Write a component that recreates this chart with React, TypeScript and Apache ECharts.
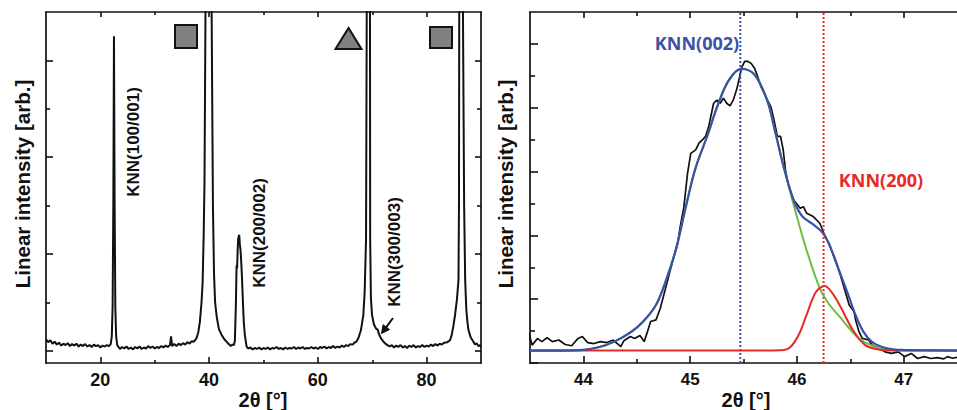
import React, { useEffect, useRef } from 'react';
import * as echarts from 'echarts';

// ---------- Left panel: 2θ-ω XRD scan (values in arbitrary units, one unit per y tick) ----------
const xrdScan: [number, number][] = [
  [10.0, 0.24], [10.4, 0.18], [10.8, 0.22], [11.2, 0.15], [11.6, 0.19], [12.0, 0.13], [12.4, 0.17], [12.8, 0.11],
  [13.2, 0.15], [13.6, 0.12], [14.0, 0.16], [14.4, 0.10], [14.8, 0.14], [15.2, 0.11], [15.6, 0.15], [16.0, 0.09],
  [16.4, 0.13], [16.8, 0.10], [17.2, 0.14], [17.6, 0.09], [18.0, 0.12], [18.4, 0.08], [18.8, 0.13], [19.2, 0.10],
  [19.6, 0.12], [20.0, 0.07], [20.4, 0.11], [20.8, 0.09], [21.2, 0.12], [21.6, 0.10],
  [21.9, 0.14], [22.1, 0.3], [22.25, 0.9], [22.38, 3.0], [22.5, 6.5], [22.62, 3.0], [22.75, 0.9], [22.9, 0.3], [23.1, 0.12],
  [23.6, 0.04], [24.0, 0.08], [24.4, 0.05], [24.8, 0.09], [25.2, 0.04], [25.6, 0.07], [26.0, 0.03], [26.4, 0.08],
  [26.8, 0.05], [27.2, 0.09], [27.6, 0.04], [28.0, 0.07], [28.4, 0.05], [28.8, 0.10], [29.2, 0.06], [29.6, 0.09],
  [30.0, 0.05], [30.4, 0.08], [30.8, 0.06], [31.2, 0.10], [31.6, 0.07], [32.0, 0.11], [32.4, 0.08], [32.8, 0.12],
  [33.0, 0.30], [33.2, 0.10], [33.6, 0.14], [34.0, 0.10], [34.4, 0.15], [34.8, 0.12], [35.2, 0.16], [35.6, 0.13],
  [36.0, 0.18], [36.4, 0.15], [36.8, 0.20], [37.2, 0.19],
  [37.67, 0.26], [38.0, 0.38], [38.3, 0.6], [38.6, 1.0], [38.8, 1.4], [39.0, 2.4], [39.15, 3.5], [39.34, 7.2],
  [39.9, 12], [40.45, 7.2], [40.7, 3.0], [40.9, 1.6], [41.1, 1.0], [41.4, 0.7], [41.8, 0.45], [42.3, 0.33],
  [42.8, 0.24], [43.2, 0.19], [43.6, 0.14], [44.0, 0.10], [44.3, 0.13], [44.55, 0.12],
  [44.73, 0.2], [44.92, 0.95], [45.05, 1.77], [45.15, 1.7], [45.25, 2.1], [45.35, 2.32], [45.53, 2.40], [45.65, 2.2],
  [45.78, 2.07], [45.9, 1.85], [46.02, 1.57], [46.15, 1.2], [46.26, 0.88], [46.4, 0.55], [46.57, 0.33], [46.89, 0.09],
  [47.2, 0.05], [47.6, 0.07], [48.0, 0.03], [48.4, 0.06], [48.8, 0.04], [49.2, 0.07], [49.6, 0.03], [50.0, 0.06],
  [50.4, 0.04], [50.8, 0.07], [51.2, 0.03], [51.6, 0.06], [52.0, 0.05], [52.4, 0.08], [52.8, 0.04], [53.2, 0.06],
  [53.6, 0.03], [54.0, 0.07], [54.4, 0.04], [54.8, 0.06], [55.2, 0.05], [55.6, 0.08], [56.0, 0.04], [56.4, 0.07],
  [56.8, 0.05], [57.2, 0.08], [57.6, 0.04], [58.0, 0.06], [58.4, 0.05], [58.8, 0.08], [59.2, 0.05], [59.6, 0.07],
  [60.0, 0.04], [60.4, 0.08], [60.8, 0.06], [61.2, 0.09], [61.6, 0.05], [62.0, 0.08], [62.4, 0.06], [62.8, 0.10],
  [63.2, 0.06], [63.6, 0.09], [64.0, 0.07], [64.4, 0.11], [64.8, 0.08], [65.2, 0.12], [65.6, 0.10], [66.0, 0.14],
  [66.4, 0.13], [66.8, 0.18],
  [67.0, 0.18], [67.44, 0.26], [67.9, 0.42], [68.36, 0.74], [68.6, 1.2], [68.86, 2.32], [68.99, 7.2], [69.3, 12],
  [69.58, 7.2], [69.62, 2.3], [69.75, 1.1], [69.95, 0.75], [70.3, 0.55], [70.7, 0.46], [71.0, 0.44], [71.2, 0.36],
  [71.6, 0.26], [72.0, 0.20], [72.4, 0.15],
  [72.8, 0.12], [73.2, 0.09], [73.6, 0.12], [74.0, 0.07], [74.4, 0.11], [74.8, 0.08], [75.2, 0.12], [75.6, 0.07],
  [76.0, 0.10], [76.4, 0.06], [76.8, 0.11], [77.2, 0.08], [77.6, 0.12], [78.0, 0.07], [78.4, 0.10], [78.8, 0.08],
  [79.2, 0.12], [79.6, 0.08], [80.0, 0.11], [80.4, 0.09], [80.8, 0.13], [81.2, 0.10], [81.6, 0.14], [82.0, 0.11],
  [82.4, 0.15], [82.8, 0.13], [83.2, 0.17],
  [83.8, 0.18], [84.3, 0.22], [84.6, 0.32], [84.9, 0.5], [85.2, 0.72], [85.56, 1.05], [85.86, 1.46], [85.95, 3.0],
  [86.0, 7.2], [86.3, 12], [86.67, 7.2], [86.9, 3.0], [87.09, 1.46], [87.3, 0.85], [87.5, 0.6], [87.7, 0.43],
  [88.1, 0.28], [88.6, 0.19],
  [88.9, 0.13], [89.2, 0.16], [89.5, 0.10], [89.8, 0.12], [90.0, 0.08],
];

const leftXMajor = [20, 40, 60, 80];
const leftXMinor = [30, 50, 70];
const leftYMajor = [0, 2, 4, 6];
const leftYMinor = [1, 3, 5];

// ---------- Right panel: KNN(002)/(200) region with peak fit ----------
const rockingData: [number, number][] = [
  [43.49, 0.93], [43.52, 0.56], [43.57, 0.77], [43.61, 0.67], [43.66, 0.79], [43.71, 0.67], [43.77, 0.72], [43.83, 0.58],
  [43.89, 0.54], [43.95, 0.77], [43.99, 0.83], [44.04, 0.64], [44.10, 0.61], [44.16, 0.67], [44.22, 0.64], [44.28, 0.72],
  [44.35, 0.51], [44.38, 0.70], [44.44, 0.83], [44.48, 0.77], [44.53, 0.86], [44.57, 0.67], [44.60, 0.98], [44.63, 1.30],
  [44.68, 1.35], [44.72, 1.71], [44.77, 2.34], [44.81, 2.86], [44.84, 3.23], [44.88, 3.70], [44.91, 4.33], [44.94, 4.85],
  [44.976, 5.95], [45.006, 6.57], [45.052, 6.68], [45.083, 6.89], [45.114, 6.99], [45.144, 7.10], [45.174, 7.41],
  [45.22, 8.14], [45.251, 8.24], [45.282, 8.14], [45.312, 8.30], [45.343, 8.14], [45.373, 8.06], [45.404, 8.24],
  [45.435, 8.56], [45.465, 8.98], [45.48, 9.24], [45.511, 9.45], [45.541, 9.45], [45.572, 9.39], [45.603, 9.24],
  [45.633, 8.98], [45.664, 8.66], [45.694, 8.45], [45.725, 8.24], [45.756, 8.03], [45.786, 7.62], [45.817, 7.10],
  [45.847, 7.10], [45.872, 6.68], [45.893, 6.05], [45.924, 5.53], [45.97, 5.11], [46.031, 4.85], [46.061, 4.90],
  [46.092, 4.69], [46.153, 4.59], [46.215, 4.38], [46.26, 4.01], [46.307, 3.70], [46.352, 3.28], [46.398, 2.86],
  [46.444, 2.34], [46.49, 1.82], [46.536, 1.61], [46.55, 1.35], [46.582, 0.98], [46.612, 0.77], [46.673, 0.72],
  [46.704, 0.56], [46.765, 0.46], [46.826, 0.35], [46.887, 0.30], [46.949, 0.35], [47.009, 0.20], [47.071, 0.30],
  [47.132, 0.14], [47.193, 0.20], [47.254, 0.14], [47.315, 0.17], [47.376, 0.13], [47.41, 0.20], [47.46, 0.15], [47.5, 0.18],
];

const fitTotal: [number, number][] = [
  [43.5, 0.39], [43.8, 0.39], [44.0, 0.41], [44.15, 0.5], [44.29, 0.67], [44.45, 0.98], [44.56, 1.3], [44.68, 1.82],
  [44.77, 2.55], [44.87, 3.6], [44.96, 4.9], [45.05, 6.1], [45.17, 7.2], [45.25, 8.0], [45.36, 8.85], [45.48, 9.22],
  [45.6, 9.05], [45.72, 8.25], [45.8, 7.2], [45.88, 6.1], [45.97, 5.1], [46.05, 4.6], [46.15, 4.35], [46.25, 4.05],
  [46.33, 3.5], [46.4, 2.86], [46.48, 2.15], [46.55, 1.5], [46.62, 1.0], [46.7, 0.67], [46.8, 0.5], [46.9, 0.43],
  [47.0, 0.41], [47.5, 0.39],
];

const fitKNN002: [number, number][] = [
  [43.5, 0.39], [44.0, 0.41], [44.15, 0.5], [44.29, 0.67], [44.45, 0.98], [44.56, 1.3], [44.68, 1.82], [44.77, 2.55],
  [44.87, 3.6], [44.96, 4.9], [45.05, 6.1], [45.17, 7.2], [45.25, 8.0], [45.36, 8.85], [45.48, 9.22], [45.6, 9.05],
  [45.72, 8.25], [45.8, 7.2], [45.88, 6.1], [45.97, 4.95], [46.09, 3.55], [46.215, 2.34], [46.3, 1.85], [46.4, 1.45],
  [46.5, 1.05], [46.58, 0.77], [46.68, 0.58], [46.77, 0.46], [46.9, 0.41], [47.1, 0.39], [47.5, 0.39],
];

const fitKNN200: [number, number][] = [
  [43.5, 0.39], [45.5, 0.39], [45.85, 0.4], [45.94, 0.5], [46.02, 0.9], [46.09, 1.5], [46.18, 2.23], [46.26, 2.41],
  [46.33, 2.2], [46.4, 1.82], [46.52, 1.06], [46.64, 0.56], [46.75, 0.43], [46.9, 0.39], [47.5, 0.39],
];

const peakKNN002 = 45.47;
const peakKNN200 = 46.25;

const rightXMajor = [44, 45, 46, 47];
const rightXMinor = [44.5, 45.5, 46.5];
const rightYMajor = [0, 2, 4, 6, 8, 10];
const rightYMinor = [1, 3, 5, 7, 9];

// ---------- styling ----------
const FONT = '"Liberation Sans", Arial, sans-serif';
const AX = '#111111';
const BLUE = '#3a51a6';
const GREEN = '#6cbd45';
const RED = '#e52b25';

function xAx(gridIndex: number, position: string, min: number, max: number, ticks: number[], len: number, showLine: boolean, labels: boolean, fontSize = 18) {
  return {
    type: 'value', gridIndex, position, min, max,
    axisLine: { show: showLine, onZero: false, lineStyle: { color: AX, width: 1.7 } },
    axisTick: { show: true, inside: true, length: len, customValues: ticks, lineStyle: { color: AX, width: 1.6 } },
    axisLabel: labels
      ? { show: true, customValues: ticks, margin: 8, color: AX, fontSize, fontWeight: 'bold', fontFamily: FONT }
      : { show: false },
    splitLine: { show: false },
  };
}

function yAx(gridIndex: number, position: string, min: number, max: number, ticks: number[], len: number, showLine: boolean) {
  return {
    type: 'value', gridIndex, position, min, max,
    axisLine: { show: showLine, onZero: false, lineStyle: { color: AX, width: 1.7 } },
    axisTick: { show: true, inside: true, length: len, customValues: ticks, lineStyle: { color: AX, width: 1.6 } },
    axisLabel: { show: false },
    splitLine: { show: false },
  };
}

function vText(text: string, x: number, y: number, size: number) {
  return {
    type: 'text', x, y, rotation: Math.PI / 2,
    style: { text, x: 0, y: 0, align: 'center', verticalAlign: 'middle', fill: AX, font: `bold ${size}px ${FONT}` },
  };
}

function hText(text: string, x: number, y: number, size: number, fill = AX, family = FONT) {
  return {
    type: 'text', x, y,
    style: { text, x: 0, y: 0, align: 'center', verticalAlign: 'middle', fill, font: `bold ${size}px ${family}` },
  };
}

const option = {
  animation: false,
  backgroundColor: '#ffffff',
  grid: [
    { left: 46, top: 12, width: 435, height: 351 },
    { left: 530, top: 12, width: 436, height: 351 },
  ],
  xAxis: [
    xAx(0, 'bottom', 10, 90, leftXMajor, 6, true, true),
    xAx(0, 'bottom', 10, 90, leftXMinor, 3, false, false),
    xAx(0, 'top', 10, 90, leftXMajor, 5, true, false),
    xAx(0, 'top', 10, 90, leftXMinor, 3, false, false),
    xAx(1, 'bottom', 43.5, 47.5, rightXMajor, 7, true, true, 17),
    xAx(1, 'bottom', 43.5, 47.5, rightXMinor, 4, false, false),
    xAx(1, 'top', 43.5, 47.5, rightXMajor, 6, true, false),
    xAx(1, 'top', 43.5, 47.5, rightXMinor, 4, false, false),
  ],
  yAxis: [
    yAx(0, 'left', -0.25, 7, leftYMajor, 7, true),
    yAx(0, 'left', -0.25, 7, leftYMinor, 4, false),
    yAx(0, 'right', -0.25, 7, leftYMajor, 6, true),
    yAx(0, 'right', -0.25, 7, leftYMinor, 4, false),
    yAx(1, 'left', 0, 11, rightYMajor, 8, true),
    yAx(1, 'left', 0, 11, rightYMinor, 5, false),
  ],
  series: [
    {
      type: 'line', xAxisIndex: 0, yAxisIndex: 0, data: xrdScan, showSymbol: false, clip: true,
      lineStyle: { color: AX, width: 2 },
    },
    {
      type: 'line', xAxisIndex: 4, yAxisIndex: 4, data: rockingData, showSymbol: false, clip: true,
      lineStyle: { color: AX, width: 1.7 },
    },
    {
      type: 'line', xAxisIndex: 4, yAxisIndex: 4, data: [[peakKNN002, 0], [peakKNN002, 11]], showSymbol: false,
      lineStyle: { color: BLUE, width: 2, type: [2, 2] },
    },
    {
      type: 'line', xAxisIndex: 4, yAxisIndex: 4, data: [[peakKNN200, 0], [peakKNN200, 11]], showSymbol: false,
      lineStyle: { color: RED, width: 2, type: [2, 2] },
    },
    {
      type: 'line', xAxisIndex: 4, yAxisIndex: 4, data: fitKNN002, showSymbol: false, smooth: 0.35, clip: true,
      lineStyle: { color: GREEN, width: 2 },
    },
    {
      type: 'line', xAxisIndex: 4, yAxisIndex: 4, data: fitKNN200, showSymbol: false, smooth: 0.35, clip: true,
      lineStyle: { color: RED, width: 2 },
    },
    {
      type: 'line', xAxisIndex: 4, yAxisIndex: 4, data: fitTotal, showSymbol: false, smooth: 0.35, clip: true,
      lineStyle: { color: BLUE, width: 2.2 },
    },
  ],
  graphic: [
    vText('Linear intensity [arb.]', 22, 184, 20.5),
    vText('Linear intensity [arb.]', 505, 184, 20.5),
    hText('2θ [°]', 263, 400, 20),
    hText('2θ [°]', 746, 400, 20),
    vText('KNN(100/001)', 133, 142, 17),
    vText('KNN(200/002)', 259, 233, 17),
    vText('KNN(300/003)', 394, 252, 17),
    hText('KNN(002)', 697, 43, 18, BLUE, '"Open Sans", sans-serif'),
    hText('KNN(200)', 881, 180, 18, RED, '"Open Sans", sans-serif'),
    { type: 'rect', shape: { x: 175, y: 25, width: 22, height: 23 }, style: { fill: '#808080', stroke: AX, lineWidth: 2 } },
    { type: 'rect', shape: { x: 430, y: 27, width: 22, height: 21 }, style: { fill: '#808080', stroke: AX, lineWidth: 2 } },
    { type: 'polygon', shape: { points: [[348.5, 28], [335.5, 49], [361.5, 49]] }, style: { fill: '#808080', stroke: AX, lineWidth: 2 } },
    { type: 'line', shape: { x1: 393, y1: 318, x2: 386.3, y2: 327.1 }, style: { stroke: AX, lineWidth: 2 } },
    { type: 'polygon', shape: { points: [[381.5, 333.5], [389.5, 329.5], [383.1, 324.7]] }, style: { fill: AX, stroke: AX, lineWidth: 1 } },
  ],
};

export default function App() {
  const ref = useRef<HTMLDivElement>(null);
  useEffect(() => {
    const chart = echarts.init(ref.current as HTMLDivElement, null, { renderer: 'svg' });
    chart.setOption(option as any);
    return () => chart.dispose();
  }, []);
  return (
    <div
      ref={ref}
      style={{ position: 'fixed', left: 0, top: 0, width: 957, height: 410, background: '#ffffff' }}
    />
  );
}
